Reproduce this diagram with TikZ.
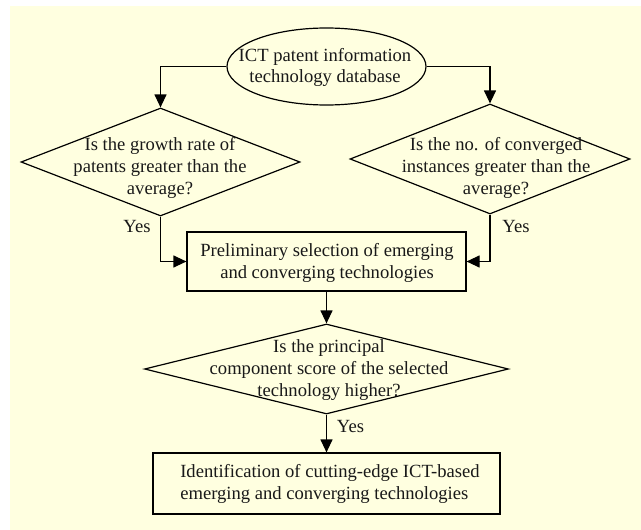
\documentclass[tikz,border=0pt]{standalone}
\usepackage{fontspec}
\setmainfont{Liberation Serif}
\usetikzlibrary{shapes.geometric,arrows.meta}
\definecolor{cream}{RGB}{255,255,224}
\begin{document}
\begin{tikzpicture}[x=1pt,y=-1pt,
  txt/.style={font=\fontsize{18.6}{21.8}\selectfont, text=black!90, align=center, inner sep=0pt},
  outline/.style={draw, line width=1.2pt, inner sep=0pt},
  flow/.style={draw, line width=1.2pt, -{Triangle[length=13pt,width=12pt]}}]
\useasboundingbox (0,0) rectangle (641,530);
\fill[cream] (10,6) rectangle (641,530);

\node[outline, ellipse, minimum width=199pt, minimum height=77pt] (E) at (326.5,66.5) {};
\node[txt] (Et) at (325,67.5) {ICT patent information\\technology database};

\node[outline, diamond, minimum width=279pt, minimum height=108pt] (D1) at (160.5,162) {};
\node[txt] (D1t) at (160,168) {Is the growth rate of\\patents greater than the\\average?};

\node[outline, diamond, minimum width=280pt, minimum height=110pt] (D2) at (490,159) {};
\node[txt] (D2t) at (496,168) {Is the no. of converged\\instances greater than the\\average?};

\node[outline, rectangle, minimum width=279pt, minimum height=59pt] (B1) at (326.5,261.5) {};
\node[txt] (B1t) at (327,263) {Preliminary selection of emerging\\and converging technologies};

\node[outline, diamond, minimum width=364pt, minimum height=90pt] (D3) at (326.5,369) {};
\node[txt] (D3t) at (329,370) {Is the principal\\component score of the selected\\technology higher?};

\node[outline, rectangle, minimum width=347pt, minimum height=61pt] (B3) at (326.5,483.5) {};
\node[txt, align=left] (B3t) at (330,484) {Identification of cutting-edge ICT-based\\emerging and converging technologies};

\node[txt] (Y1) at (137,227) {Yes};
\node[txt] (Y2) at (516,227) {Yes};
\node[txt] (Y3) at (350.5,426) {Yes};

\draw[flow] (E.west) -| (D1.north);
\draw[flow] (E.east) -| (D2.north);
\draw[flow] (D1.south) |- (B1.west);
\draw[flow] (D2.south) |- (B1.east);
\draw[flow] (B1.south) -- (D3.north);
\draw[flow] (D3.south) -- (B3.north);
\end{tikzpicture}
\end{document}
